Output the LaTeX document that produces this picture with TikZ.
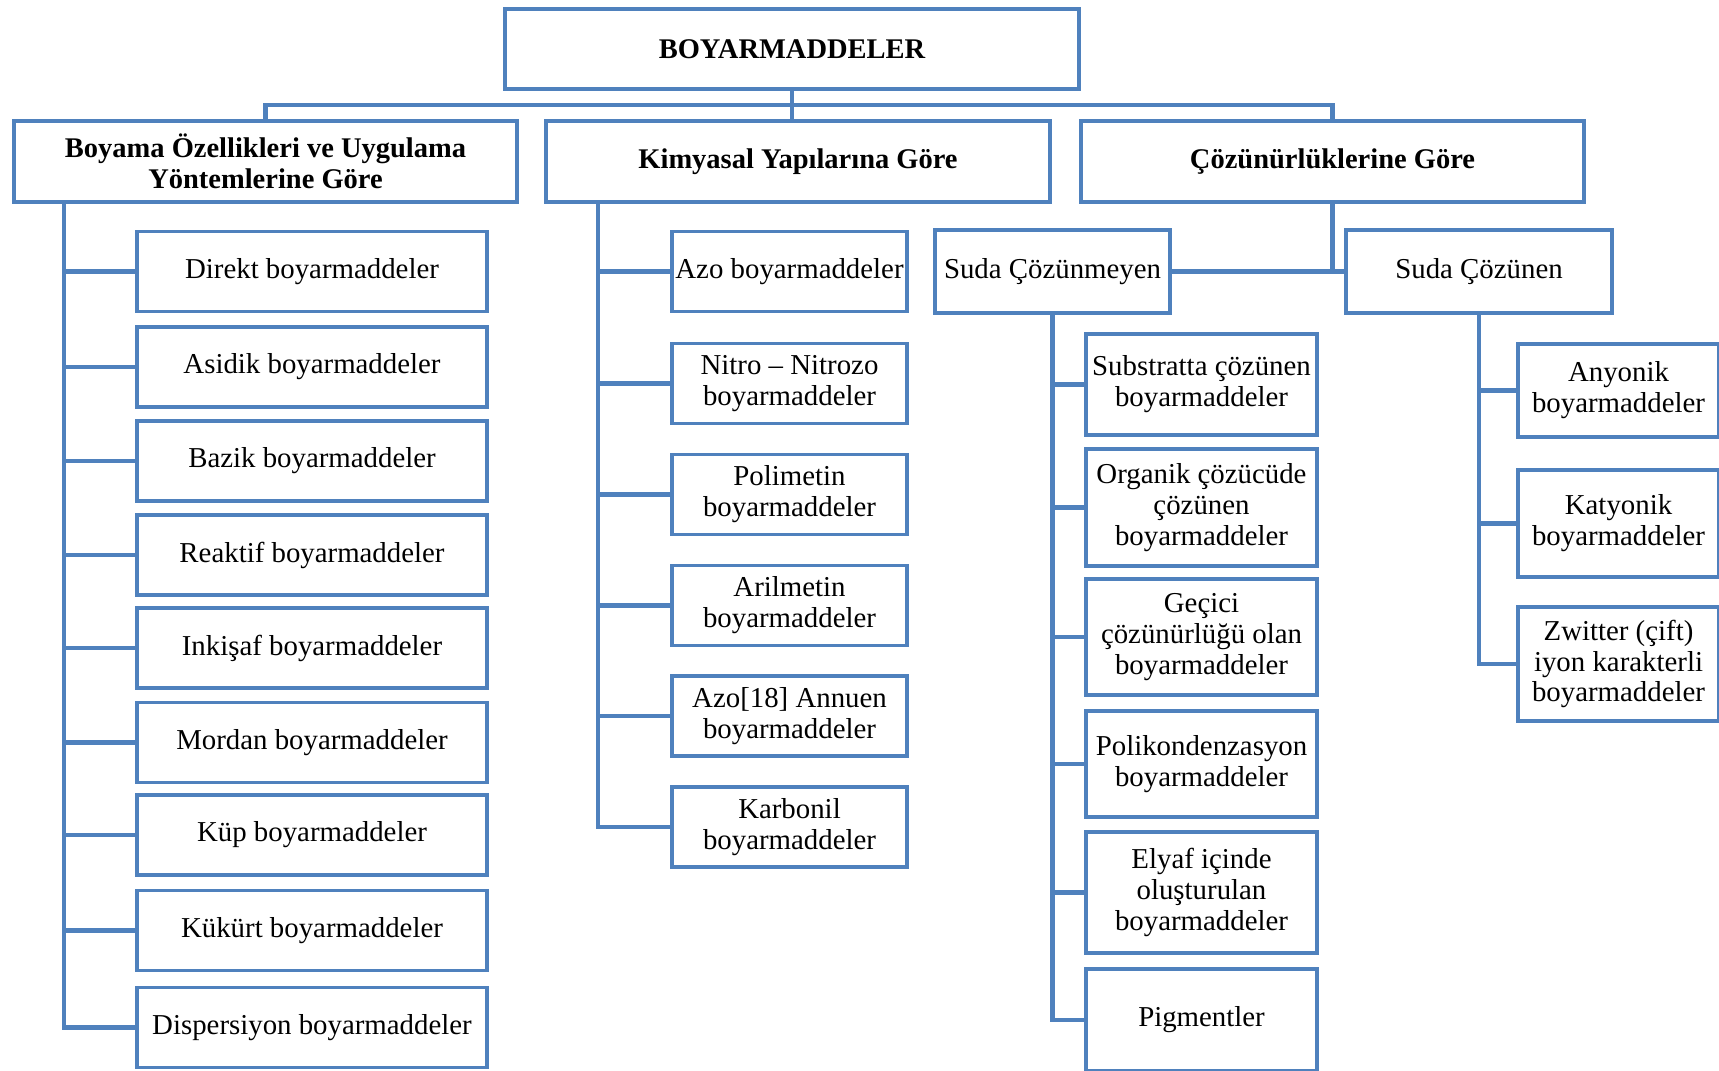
\documentclass[tikz,border=0pt]{standalone}
\usepackage{fontspec}
\setmainfont{Liberation Serif}
\definecolor{boxblue}{RGB}{79,129,189}
\tikzset{
  link/.style={draw=boxblue, line width=1.2pt},
  box/.style={draw=boxblue, line width=1.1pt, fill=white, align=center, inner sep=1pt,
    font=\fontsize{8.2}{8.8}\selectfont},
  head/.style={box, minimum width=5.03cm, minimum height=0.81cm,
    font=\fontsize{8.1}{8.8}\selectfont\bfseries},
  leftbox/.style={box, minimum width=3.5cm, minimum height=0.8cm},
  midbox/.style={box, minimum width=2.35cm, minimum height=0.8cm},
  meybox/.style={box, minimum width=2.31cm},
  enbox/.style={box, minimum width=2.01cm}
}
\begin{document}
\begin{tikzpicture}[x=0.01cm,y=-0.01cm]
	\useasboundingbox (0,0) rectangle (1719,1071);
	% top and the three groups
	\node[head, minimum width=5.74cm, minimum height=0.8cm] (top) at (792,49) {BOYARMADDELER};
	\node[head] (A) at (265.5,161.5) {Boyama Özellikleri ve Uygulama\\Yöntemlerine Göre};
	\node[head] (B) at (798,161.5) {Kimyasal Yapılarına Göre};
	\node[head] (C) at (1332.5,161.5) {Çözünürlüklerine Göre};
	\draw[link] (top.south) -- (top.south |- B.north);
	\draw[link] (A.north) -- ++(0,-14) -| (C.north);

	% boyama
	\coordinate (sA) at (64,202);
	\foreach \y/\t [count=\i] in {271.5/Direkt, 367/Asidik, 461/Bazik, 555/Reaktif,
			648/Inkişaf, 742.5/Mordan, 835/Küp, 930.5/Kükürt, 1027.5/Dispersiyon}
		{
			\node[leftbox] (L\i) at (312,\y) {\t{} boyarmaddeler};
			\draw[link] (sA) |- (L\i.west);
		}

	% kimyasal
	\coordinate (sB) at (598,202);
	\foreach \y/\t [count=\i] in {271.5/{Azo boyarmaddeler},
			383.5/{Nitro – Nitrozo\\boyarmaddeler}, 494.5/{Polimetin\\boyarmaddeler},
			605.5/{Arilmetin\\boyarmaddeler}, 716/{Azo[18] Annuen\\boyarmaddeler},
			827/{Karbonil\\boyarmaddeler}}
		{
			\node[midbox] (K\i) at (789.5,\y) {\t};
			\draw[link] (sB) |- (K\i.west);
		}

	% cozunurluk
	\node[box, minimum width=2.35cm, minimum height=0.83cm] (mey) at (1052.5,271.5) {Suda Çözünmeyen};
	\node[box, minimum width=2.66cm, minimum height=0.83cm] (en) at (1479,271.5) {Suda Çözünen};
	\draw[link] (mey.east) -- (en.west);
	\draw[link] (C.south) -- (C.south |- en.west);

	\foreach \y/\h/\t [count=\i] in {384.5/1.01/{Substratta çözünen\\boyarmaddeler},
			507.5/1.17/{Organik çözücüde\\çözünen\\boyarmaddeler},
			637/1.16/{Geçici\\çözünürlüğü olan\\boyarmaddeler},
			764/1.06/{Polikondenzasyon\\boyarmaddeler},
			892.5/1.21/{Elyaf içinde\\oluşturulan\\boyarmaddeler},
			1020/1.02/{Pigmentler}}
		{
			\node[meybox, minimum height=\h cm] (M\i) at (1201.5,\y) {\t};
			\draw[link] (mey.south) |- (M\i.west);
		}

	\foreach \y/\h/\t [count=\i] in {390.5/0.93/{Anyonik\\boyarmaddeler},
			523.5/1.07/{Katyonik\\boyarmaddeler},
			664/1.14/{Zwitter (çift)\\iyon karakterli\\boyarmaddeler}}
		{
			\node[enbox, minimum height=\h cm] (N\i) at (1618.5,\y) {\t};
			\draw[link] (en.south) |- (N\i.west);
		}
\end{tikzpicture}
\end{document}
